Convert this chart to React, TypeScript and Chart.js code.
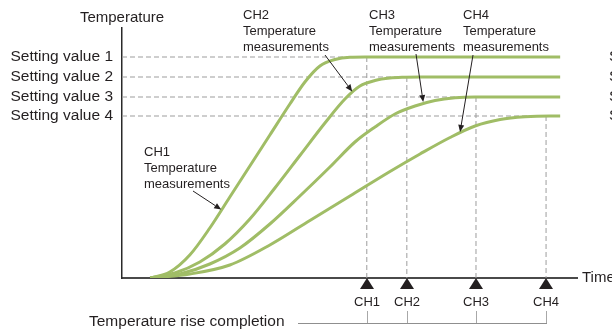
import React, { useEffect, useRef } from 'react';
import { Chart, registerables } from 'chart.js';

Chart.register(...registerables);

const FONT = '"Liberation Sans", Arial, Helvetica, sans-serif';
const TEXT = '#231f20';
const GREEN = '#a0bd66';
const DASH = '#9d9d9d';

// Setting values (temperature axis)
const settingLabels = ['Setting value 1', 'Setting value 2', 'Setting value 3', 'Setting value 4'];
const settingValues = [88.4, 80.4, 72.4, 64.8];

// Temperature rise completion times
const channelLabels = ['CH1', 'CH2', 'CH3', 'CH4'];
const completionTimes = [53.8, 62.6, 77.8, 93.2];
const endTime = 96.3;

// Measured curves
const ch1Time = [6.2, 10.5, 14.9, 19.3, 23.7, 28.1, 32.5, 36.9, 40.2, 43.5, 46.8, 50.1, 53.4, 96.3];
const ch1Temp = [0, 2.4, 9.2, 20.0, 32.4, 44.8, 57.2, 69.6, 78.4, 84.8, 87.4, 88.3, 88.4, 88.4];
const ch2Time = [6.2, 11.6, 17.1, 22.6, 28.1, 33.6, 39.1, 44.6, 49.0, 52.3, 55.6, 58.9, 62.2, 65.5, 96.3];
const ch2Temp = [0, 2.0, 6.4, 13.6, 23.6, 36.0, 49.0, 62.0, 71.6, 76.8, 79.0, 80.0, 80.3, 80.4, 80.4];
const ch3Time = [6.2, 12.7, 19.3, 25.9, 32.5, 39.1, 45.7, 51.2, 55.6, 60.0, 64.4, 68.8, 73.2, 77.6, 96.3];
const ch3Temp = [0, 1.6, 5.6, 12.0, 21.6, 32.8, 44.4, 54.4, 60.4, 65.6, 68.8, 71.0, 72.1, 72.4, 72.4];
const ch4Time = [6.2, 14.9, 23.7, 32.5, 41.3, 50.1, 58.9, 65.5, 72.1, 77.6, 83.1, 88.6, 94.1, 96.3];
const ch4Temp = [0, 1.6, 5.2, 13.2, 23.0, 32.8, 42.6, 49.6, 56.2, 60.8, 63.4, 64.5, 64.8, 64.8];

// Annotation texts and where their arrows point (on the curves)
const noteLines = [
  ['CH1', 'Temperature', 'measurements'],
  ['CH2', 'Temperature', 'measurements'],
  ['CH3', 'Temperature', 'measurements'],
  ['CH4', 'Temperature', 'measurements'],
];
const pointerTimes = [21.8, 50.6, 66.2, 74.3];
const pointerTemps = [27.4, 74.6, 70.4, 58.4];

const completionText = 'Temperature rise completion';
const yTitle = 'Temperature';
const xTitle = 'Time';

const toPts = (xs: number[], ys: number[]) => xs.map((x, i) => ({ x, y: ys[i] }));

// pixel layout of the annotation text blocks and arrow tails
const notePos = [
  { x: 144, y: 152, tx: 193, ty: 191 },
  { x: 243, y: 15, tx: 325, ty: 55 },
  { x: 369, y: 15, tx: 416, ty: 54 },
  { x: 463, y: 15, tx: 473, ty: 55 },
];

const overlay = {
  id: 'overlay',
  afterDatasetsDraw(chart: any) {
    const ctx = chart.ctx as CanvasRenderingContext2D;
    const xs = chart.scales.x;
    const ys = chart.scales.y;
    const a = chart.chartArea;
    ctx.save();
    ctx.fillStyle = TEXT;
    ctx.textBaseline = 'middle';

    // axis titles
    ctx.font = `15px ${FONT}`;
    ctx.textAlign = 'center';
    ctx.fillText(yTitle, a.left, 18);
    ctx.textAlign = 'left';
    ctx.fillText(xTitle, a.right + 5, a.bottom);

    // completion markers
    let lastX = 0;
    completionTimes.forEach((t, i) => {
      const x = Math.round(xs.getPixelForValue(t));
      lastX = x;
      ctx.fillStyle = TEXT;
      ctx.beginPath();
      ctx.moveTo(x, a.bottom);
      ctx.lineTo(x - 7, a.bottom + 11);
      ctx.lineTo(x + 7, a.bottom + 11);
      ctx.closePath();
      ctx.fill();
      ctx.font = `13px ${FONT}`;
      ctx.textAlign = 'center';
      ctx.fillText(channelLabels[i], x, a.bottom + 24);
      ctx.strokeStyle = '#a8a8a8';
      ctx.lineWidth = 1;
      ctx.beginPath();
      ctx.moveTo(x + 0.5, a.bottom + 33);
      ctx.lineTo(x + 0.5, a.bottom + 46);
      ctx.stroke();
    });
    ctx.strokeStyle = '#8f8f8f';
    ctx.beginPath();
    ctx.moveTo(298, a.bottom + 45.5);
    ctx.lineTo(lastX + 1, a.bottom + 45.5);
    ctx.stroke();
    ctx.fillStyle = TEXT;
    ctx.font = `15.5px ${FONT}`;
    ctx.textAlign = 'left';
    ctx.fillText(completionText, 89, a.bottom + 44);

    // annotations with arrows
    ctx.font = `13px ${FONT}`;
    noteLines.forEach((lines, i) => {
      const p = notePos[i];
      lines.forEach((s, j) => ctx.fillText(s, p.x, p.y + j * 16));
      const hx = xs.getPixelForValue(pointerTimes[i]);
      const hy = ys.getPixelForValue(pointerTemps[i]);
      const ang = Math.atan2(hy - p.ty, hx - p.tx);
      const L = 7, W = 3;
      const bx = hx - L * Math.cos(ang), by = hy - L * Math.sin(ang);
      ctx.strokeStyle = TEXT;
      ctx.lineWidth = 1;
      ctx.beginPath();
      ctx.moveTo(p.tx, p.ty);
      ctx.lineTo(bx, by);
      ctx.stroke();
      ctx.beginPath();
      ctx.moveTo(hx, hy);
      ctx.lineTo(bx + W * Math.sin(ang), by - W * Math.cos(ang));
      ctx.lineTo(bx - W * Math.sin(ang), by + W * Math.cos(ang));
      ctx.closePath();
      ctx.fill();
    });

    // edge of the neighbouring figure (cut off)
    ctx.font = `15.5px ${FONT}`;
    ctx.textAlign = 'left';
    settingLabels.forEach((s, i) => ctx.fillText(s, 609, ys.getPixelForValue(settingValues[i])));
    ctx.restore();
  },
};

export default function App() {
  const ref = useRef<HTMLCanvasElement>(null);
  useEffect(() => {
    if (!ref.current) return;
    const dashed: any[] = [];
    settingValues.forEach((v) => {
      dashed.push({
        data: [{ x: 0, y: v }, { x: endTime, y: v }],
        borderColor: DASH, borderWidth: 1, borderDash: [5, 3], pointRadius: 0, order: 2,
      });
    });
    completionTimes.forEach((t, i) => {
      dashed.push({
        data: [{ x: t, y: settingValues[i] }, { x: t, y: 0 }],
        borderColor: DASH, borderWidth: 1, borderDash: [5, 3], pointRadius: 0, order: 2,
      });
    });
    const curves = [
      toPts(ch1Time, ch1Temp),
      toPts(ch2Time, ch2Temp),
      toPts(ch3Time, ch3Temp),
      toPts(ch4Time, ch4Temp),
    ].map((d, i) => ({
      label: channelLabels[i],
      data: d,
      borderColor: GREEN,
      borderWidth: 3,
      pointRadius: 0,
      cubicInterpolationMode: 'monotone' as const,
      order: 1,
    }));
    const chart = new Chart(ref.current, {
      type: 'line',
      data: { datasets: [...curves, ...dashed] },
      options: {
        animation: false,
        responsive: false,
        devicePixelRatio: 1,
        events: [],
        layout: { padding: { left: 0, top: 28, right: 35, bottom: 0 } },
        plugins: { legend: { display: false }, tooltip: { enabled: false } },
        scales: {
          x: {
            type: 'linear', min: 0, max: 100,
            grid: { display: false, drawTicks: false },
            ticks: { display: false },
            border: { display: true, color: '#4a4a4a', width: 2 },
            afterFit: (s: any) => { s.height = 53; },
          },
          y: {
            type: 'linear', min: 0, max: 100,
            grid: { display: false, drawTicks: false },
            border: { display: true, color: '#2a2a2a', width: 1.5 },
            afterBuildTicks: (s: any) => { s.ticks = settingValues.map((v) => ({ value: v })); },
            ticks: {
              autoSkip: false,
              padding: 9,
              color: TEXT,
              font: { family: FONT, size: 15.5 },
              callback: (_v: any, i: number) => settingLabels[i],
            },
            afterFit: (s: any) => { s.width = 122; },
          },
        },
      },
      plugins: [overlay],
    });
    return () => chart.destroy();
  }, []);
  return (
    <div style={{ position: 'fixed', left: 0, top: 0, width: 612, height: 331, background: '#fff' }}>
      <canvas ref={ref} width={612} height={331} style={{ width: 612, height: 331, display: 'block' }} />
    </div>
  );
}
